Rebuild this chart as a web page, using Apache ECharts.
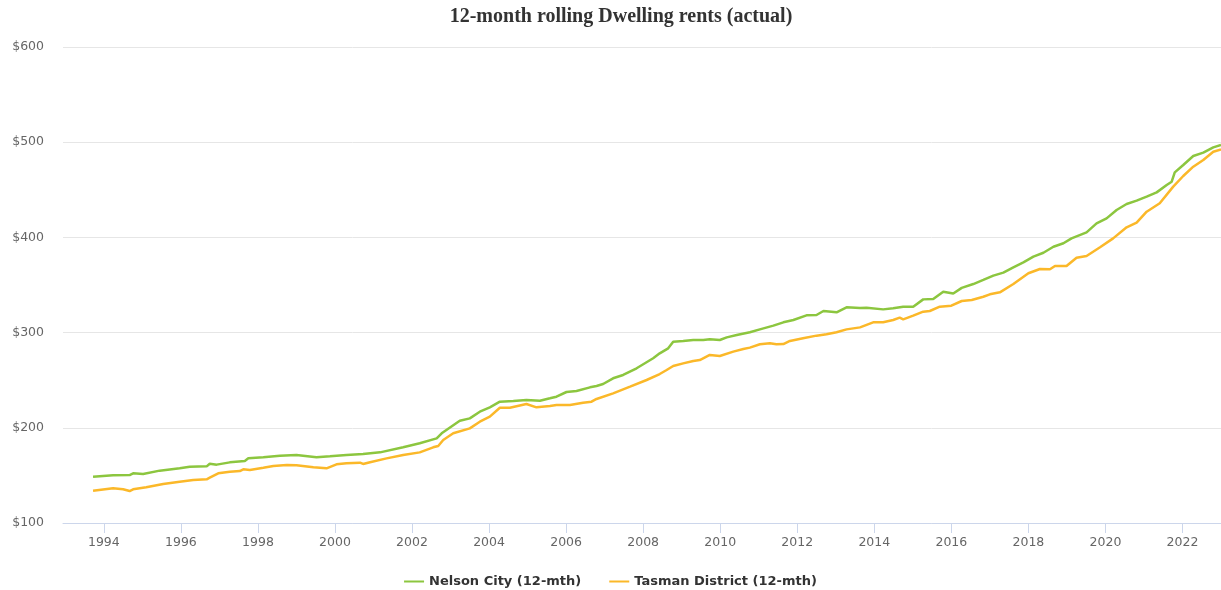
<!DOCTYPE html>
<html>
<head>
<meta charset="utf-8">
<script src="https://cdn.jsdelivr.net/npm/echarts@6/dist/echarts.min.js"></script>
<style>html,body{margin:0;padding:0;background:#fff;}#c{width:1221px;height:590px;}</style>
</head>
<body>
<div id="c"></div>
<script>
const titleText = '12-month rolling Dwelling rents (actual)';
const seriesNames = ['Nelson City (12-mth)', 'Tasman District (12-mth)'];
const yTicks = [100, 200, 300, 400, 500, 600];
const xTickYears = [1994,1996,1998,2000,2002,2004,2006,2008,2010,2012,2014,2016,2018,2020,2022];

const nelsonYears = [1993.72,1994.24,1994.67,1994.76,1995.02,1995.45,1995.97,1996.23,1996.67,1996.75,1996.93,1997.27,1997.66,1997.75,1998.14,1998.57,1999.00,1999.52,1999.87,2000.30,2000.73,2001.17,2001.77,2002.20,2002.64,2002.77,2003.24,2003.50,2003.76,2004.02,2004.28,2004.63,2004.97,2005.32,2005.58,2005.75,2006.01,2006.27,2006.62,2006.79,2006.96,2007.22,2007.48,2007.83,2008.26,2008.43,2008.65,2008.78,2009.04,2009.30,2009.56,2009.73,2009.99,2010.17,2010.43,2010.77,2011.03,2011.38,2011.64,2011.90,2012.24,2012.50,2012.68,2013.02,2013.28,2013.63,2013.80,2014.23,2014.49,2014.75,2015.01,2015.27,2015.53,2015.79,2016.05,2016.27,2016.57,2016.83,2017.09,2017.35,2017.61,2017.87,2018.13,2018.39,2018.65,2018.91,2019.12,2019.51,2019.77,2020.03,2020.29,2020.55,2020.81,2021.07,2021.33,2021.59,2021.72,2021.80,2022.02,2022.28,2022.54,2022.80,2023.00];
const nelsonRents = [148.6,150.1,150.4,152.2,151.5,155.0,157.4,159.1,159.5,162.3,161.3,163.7,165.1,167.9,169.0,170.7,171.4,169.0,170.0,171.4,172.5,174.2,179.5,183.7,188.9,194.2,207.5,209.9,216.9,221.5,227.4,228.2,229.2,228.5,231.0,232.7,237.6,238.7,242.5,243.9,246.0,252.0,255.5,262.5,273.0,278.2,283.5,290.5,291.2,292.2,292.2,292.9,292.2,295.0,297.5,300.3,303.4,307.3,310.8,313.2,318.1,318.5,322.7,321.3,326.5,325.8,326.2,324.4,325.5,327.2,327.2,334.9,335.3,343.0,341.0,347.0,351.0,355.3,359.8,363.0,368.6,373.8,379.8,383.9,390.2,393.8,399.0,405.3,414.8,420.0,428.8,435.1,438.6,442.8,447.3,455.0,458.5,468.3,476.1,485.5,489.0,494.6,497.1];

const tasmanYears = [1993.72,1994.24,1994.50,1994.67,1994.76,1995.10,1995.54,1995.97,1996.32,1996.67,1996.75,1996.97,1997.27,1997.53,1997.62,1997.79,1998.14,1998.40,1998.75,1999.00,1999.44,1999.61,1999.78,2000.04,2000.30,2000.65,2000.73,2000.91,2001.34,2001.77,2002.20,2002.55,2002.68,2002.81,2003.07,2003.50,2003.76,2004.02,2004.28,2004.54,2004.97,2005.23,2005.58,2005.75,2006.10,2006.44,2006.66,2006.79,2007.22,2007.66,2008.09,2008.43,2008.61,2008.78,2009.04,2009.30,2009.47,2009.73,2009.99,2010.34,2010.60,2010.77,2011.03,2011.29,2011.46,2011.64,2011.81,2012.15,2012.50,2012.76,2013.02,2013.28,2013.63,2013.97,2014.23,2014.49,2014.66,2014.75,2015.01,2015.27,2015.44,2015.70,2016.00,2016.27,2016.53,2016.83,2017.00,2017.26,2017.61,2018.00,2018.30,2018.56,2018.69,2018.99,2019.25,2019.51,2019.86,2020.20,2020.55,2020.81,2021.07,2021.41,2021.76,2022.02,2022.28,2022.54,2022.80,2023.00];
const tasmanRents = [133.9,136.4,135.4,133.6,135.4,137.5,141.0,143.4,145.2,145.9,147.6,152.2,153.9,154.6,156.4,155.7,158.1,159.9,160.9,160.6,158.5,158.1,157.4,161.6,162.7,163.4,162.0,163.9,167.9,171.4,174.2,179.5,180.9,187.2,194.2,199.4,206.4,211.7,221.1,221.1,225.0,221.5,222.9,223.9,223.9,226.4,227.4,230.3,236.2,243.2,250.2,256.5,260.7,264.9,267.7,270.2,271.2,276.5,275.4,280.0,282.8,284.2,287.7,288.7,287.7,288.0,291.2,294.0,296.8,298.2,300.3,303.4,305.5,310.8,310.8,313.2,315.7,313.9,317.8,322.0,322.7,327.2,328.3,333.2,334.2,337.7,340.2,342.3,351.0,362.3,366.8,366.5,370.0,370.0,378.7,380.5,389.6,399.0,410.6,415.5,427.0,435.8,453.3,464.5,474.3,481.3,490.0,492.5];

const colors = ['#8cc63f', '#fbb829'];
const pair = (xs, ys) => xs.map((x, i) => [x, ys[i]]);

const chart = echarts.init(document.getElementById('c'), null, {renderer: 'canvas'});
chart.setOption({
  animation: false,
  color: colors,
  title: {
    text: titleText,
    left: 621,
    textAlign: 'center',
    top: 7,
    padding: 0,
    textStyle: {fontFamily: '"Liberation Serif", "DejaVu Serif", serif', fontWeight: 'bold', fontSize: 20, color: '#333'}
  },
  legend: {
    top: 570,
    left: 'center',
    icon: 'rect',
    itemWidth: 20,
    itemHeight: 2,
    itemGap: 28,
    textStyle: {fontFamily: '"DejaVu Sans", sans-serif', fontWeight: 'bold', fontSize: 13, color: '#333'},
    data: seriesNames
  },
  grid: {left: 63, right: 0, top: 47, bottom: 67, containLabel: false},
  xAxis: {
    type: 'value',
    min: 1992.94,
    max: 2023,
    splitLine: {show: false},
    axisLine: {show: true, lineStyle: {color: '#ccd6eb', width: 1}},
    axisTick: {show: true, length: 10, lineStyle: {color: '#ccd6eb'}, customValues: xTickYears},
    axisLabel: {customValues: xTickYears, margin: 13, color: '#666', fontSize: 12.5, fontFamily: '"DejaVu Sans", sans-serif', formatter: v => String(Math.round(v))}
  },
  yAxis: {
    type: 'value',
    min: yTicks[0],
    max: yTicks[yTicks.length - 1],
    interval: 100,
    axisLine: {show: false},
    axisTick: {show: false},
    splitLine: {lineStyle: {color: '#e6e6e6', width: 1}},
    axisLabel: {margin: 19, padding: [3, 0, 0, 0], color: '#666', fontSize: 12.5, fontFamily: '"DejaVu Sans", sans-serif', formatter: v => '$' + v}
  },
  series: [
    {name: seriesNames[0], type: 'line', showSymbol: false, symbol: 'none', lineStyle: {width: 2.5, color: colors[0]}, data: pair(nelsonYears, nelsonRents)},
    {name: seriesNames[1], type: 'line', showSymbol: false, symbol: 'none', lineStyle: {width: 2.5, color: colors[1]}, data: pair(tasmanYears, tasmanRents)}
  ]
});
</script>
</body>
</html>
